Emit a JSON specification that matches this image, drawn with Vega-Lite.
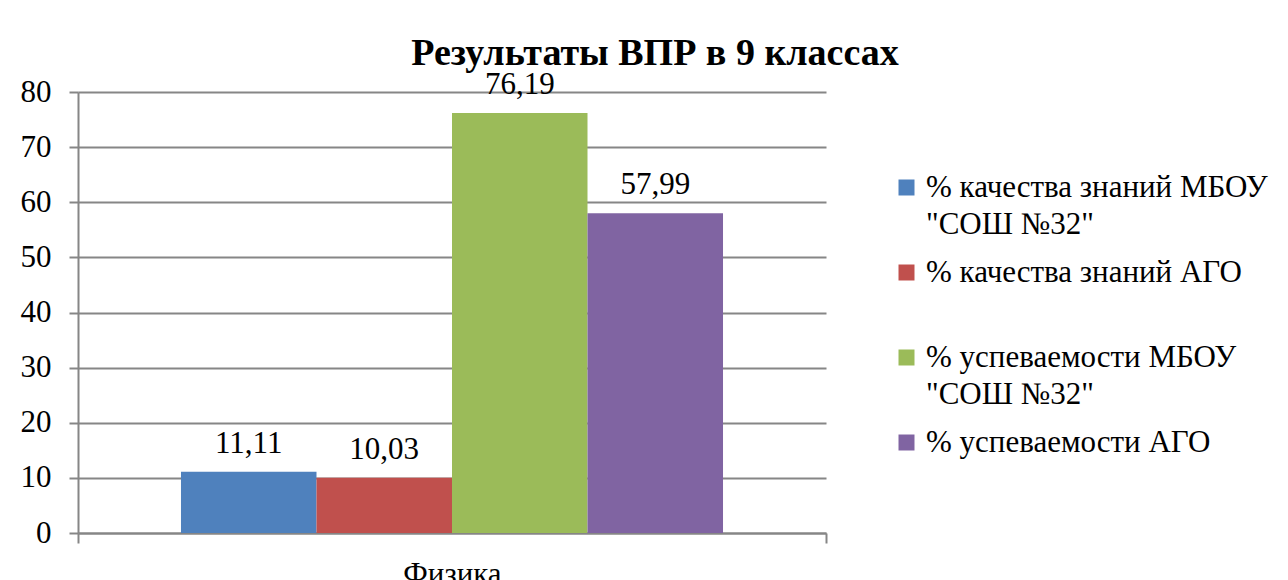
{
  "$schema": "https://vega.github.io/schema/vega-lite/v6.json",
  "autosize": {"type": "none"},
  "padding": {"left": 78, "top": 92, "right": 462, "bottom": 47},
  "width": 748,
  "height": 441,
  "background": "white",
  "title": {
    "text": "Результаты ВПР в 9 классах",
    "font": "Times New Roman, Liberation Serif, serif",
    "fontSize": 38,
    "fontWeight": "bold",
    "color": "black",
    "anchor": "middle",
    "frame": "group",
    "dx": 203,
    "baseline": "alphabetic",
    "offset": -34
  },
  "config": {
    "locale": {"number": {"decimal": ",", "thousands": " ", "grouping": [3], "currency": ["", ""]}},
    "view": {"stroke": null},
    "font": "Times New Roman, Liberation Serif, serif"
  },
  "data": {
    "values": [
      {"subject": "Физика", "series": "% качества знаний МБОУ \"СОШ №32\"", "value": 11.11},
      {"subject": "Физика", "series": "% качества знаний АГО", "value": 10.03},
      {"subject": "Физика", "series": "% успеваемости МБОУ \"СОШ №32\"", "value": 76.19},
      {"subject": "Физика", "series": "% успеваемости АГО", "value": 57.99}
    ]
  },
  "encoding": {
    "x": {
      "field": "subject",
      "type": "nominal",
      "scale": {"paddingInner": 0, "paddingOuter": 0},
      "axis": {
        "title": null,
        "labelAngle": 0,
        "labelFont": "Times New Roman, Liberation Serif, serif",
        "labelFontSize": 31,
        "labelColor": "black",
        "labelPadding": 16,
        "domainColor": "#868686",
        "domainWidth": 2,
        "tickColor": "#868686",
        "tickWidth": 2,
        "tickSize": 10,
        "tickBand": "extent"
      }
    },
    "xOffset": {
      "field": "series",
      "type": "nominal",
      "sort": null,
      "scale": {"paddingInner": 0, "paddingOuter": 0.76}
    },
    "y": {
      "field": "value",
      "type": "quantitative",
      "scale": {"domain": [0, 80], "nice": false},
      "axis": {
        "title": null,
        "values": [0, 10, 20, 30, 40, 50, 60, 70, 80],
        "labelFont": "Times New Roman, Liberation Serif, serif",
        "labelFontSize": 31,
        "labelColor": "black",
        "labelPadding": 18,
        "tickSize": 9,
        "tickColor": "#868686",
        "tickWidth": 2,
        "domainColor": "#868686",
        "domainWidth": 2,
        "gridColor": "#868686",
        "gridWidth": 2
      }
    }
  },
  "layer": [
    {
      "mark": {"type": "bar"},
      "encoding": {
        "color": {
          "field": "series",
          "type": "nominal",
          "scale": {
            "domain": ["% качества знаний МБОУ \"СОШ №32\"", "% качества знаний АГО", "% успеваемости МБОУ \"СОШ №32\"", "% успеваемости АГО"],
            "range": ["#4F81BD", "#C0504D", "#9BBB59", "#8064A2"]
          },
          "legend": {
            "title": null,
            "orient": "none",
            "legendX": 813,
            "legendY": 80,
            "symbolType": "square",
            "symbolSize": 256,
            "symbolStrokeWidth": 0,
            "labelFont": "Times New Roman, Liberation Serif, serif",
            "labelFontSize": 31,
            "labelColor": "black",
            "labelOffset": 4,
            "labelLimit": 600,
            "rowPadding": 16,
            "labelExpr": "indexof(datum.label, ' \"') >= 0 ? split(replace(datum.label, ' \"', '|\"'), '|') : [datum.label, '']",
            "encode": {"labels": {"update": {"lineHeight": {"value": 37}}}}
          }
        }
      }
    },
    {
      "mark": {"type": "text", "baseline": "bottom", "dy": -12, "fontSize": 31, "font": "Times New Roman, Liberation Serif, serif", "color": "black"},
      "encoding": {
        "text": {"field": "value", "type": "quantitative", "format": ".2f"}
      }
    }
  ]
}
